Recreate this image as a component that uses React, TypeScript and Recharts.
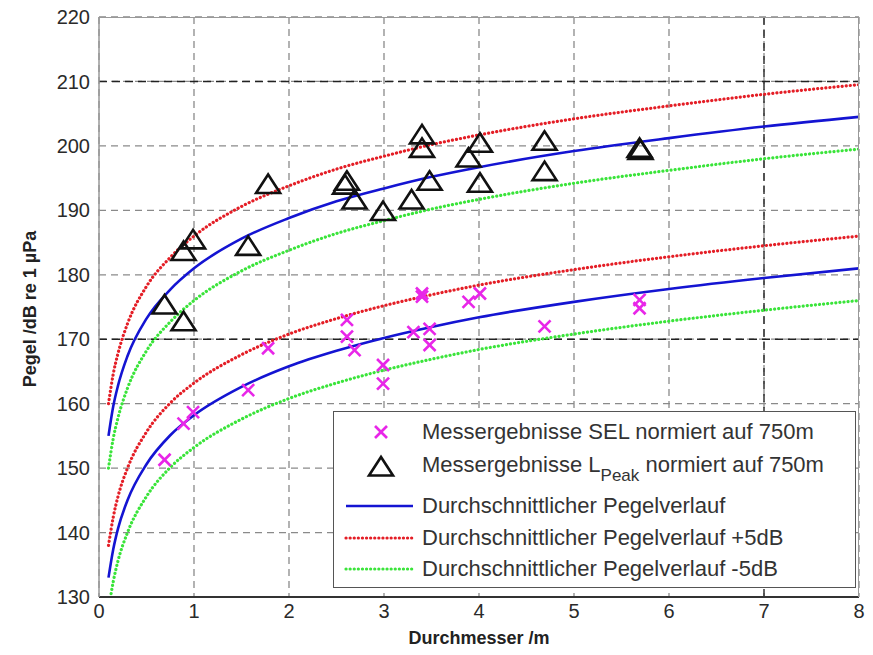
import React from 'react';
import {
  ComposedChart,
  Line,
  Scatter,
  XAxis,
  YAxis,
  CartesianGrid,
  ReferenceLine,
  Label,
} from 'recharts';

// Curve x positions (Durchmesser / m)
const curveX = [0.1, 0.15, 0.2, 0.3, 0.5, 0.75, 1, 1.5, 2, 2.5, 3, 3.5, 4, 5, 6, 7, 8];
// L_Peak average curve and +/-5 dB bands
const peakMean = [155.0, 159.6, 162.8, 167.4, 173.2, 177.7, 181.0, 185.6, 188.8, 191.4, 193.4, 195.2, 196.7, 199.2, 201.2, 203.0, 204.5];
const peakPlus = [160.0, 164.6, 167.8, 172.4, 178.2, 182.7, 186.0, 190.6, 193.8, 196.4, 198.4, 200.2, 201.7, 204.2, 206.2, 208.0, 209.5];
const peakMinus = [150.0, 154.6, 157.8, 162.4, 168.2, 172.7, 176.0, 180.6, 183.8, 186.4, 188.4, 190.2, 191.7, 194.2, 196.2, 198.0, 199.5];
// SEL average curve and +/-5 dB bands
const selMean = [133.0, 137.4, 140.6, 145.0, 150.6, 155.1, 158.2, 162.6, 165.8, 168.2, 170.2, 171.9, 173.4, 175.8, 177.8, 179.5, 181.0];
const selPlus = [138.0, 142.4, 145.6, 150.0, 155.6, 160.1, 163.2, 167.6, 170.8, 173.2, 175.2, 176.9, 178.4, 180.8, 182.8, 184.5, 186.0];
const selMinus = [128.0, 132.4, 135.6, 140.0, 145.6, 150.1, 153.2, 157.6, 160.8, 163.2, 165.2, 166.9, 168.4, 170.8, 172.8, 174.5, 176.0];

// Measurements L_Peak (triangles)
const peakX = [0.69, 0.89, 0.89, 0.99, 1.57, 1.78, 2.59, 2.61, 2.69, 2.99, 3.29, 3.40, 3.40, 3.48, 3.89, 4.01, 4.01, 4.69, 4.69, 5.69, 5.70];
const peakY = [175.0, 172.4, 183.3, 185.1, 184.1, 193.7, 193.6, 194.2, 191.3, 189.5, 191.3, 201.4, 199.3, 194.2, 197.8, 200.1, 193.9, 200.4, 195.7, 199.3, 199.0];
// Measurements SEL (crosses)
const selX = [0.69, 0.89, 0.99, 1.57, 1.78, 2.61, 2.61, 2.69, 2.99, 2.99, 3.31, 3.40, 3.40, 3.48, 3.48, 3.89, 4.01, 4.69, 5.69, 5.69];
const selY = [151.3, 156.9, 158.7, 162.1, 168.6, 173.0, 170.4, 168.3, 166.0, 163.1, 171.1, 177.1, 176.6, 171.6, 169.1, 175.8, 177.1, 172.0, 176.1, 174.8];

const xTicks = [0, 1, 2, 3, 4, 5, 6, 7, 8];
const yTicks = [130, 140, 150, 160, 170, 180, 190, 200, 210, 220];

const toPts = (xs: number[], ys: number[]) => xs.map((x, i) => ({ x, y: ys[i] }));

const FONT = '"Liberation Sans", Arial, Helvetica, sans-serif';
const BLUE = '#1414d2';
const RED = '#e41e26';
const GREEN = '#3ae43a';
const MAGENTA = '#e826e8';

const CrossShape = (props: any) => {
  const { cx, cy } = props;
  const s = 6;
  return (
    <g stroke={MAGENTA} strokeWidth={2.6}>
      <line x1={cx - s} y1={cy - s} x2={cx + s} y2={cy + s} />
      <line x1={cx - s} y1={cy + s} x2={cx + s} y2={cy - s} />
    </g>
  );
};

const TriShape = (props: any) => {
  const { cx, cy } = props;
  return (
    <polygon
      points={`${cx},${cy - 12} ${cx - 12},${cy + 6.5} ${cx + 12},${cy + 6.5}`}
      fill="none"
      stroke="#111"
      strokeWidth={2.6}
      strokeLinejoin="miter"
    />
  );
};

const dotted = { strokeDasharray: '0.1 4', strokeLinecap: 'round' as const, strokeWidth: 3.2 };

export default function App() {
  const lines = [
    { d: peakPlus, c: RED, dot: true },
    { d: peakMinus, c: GREEN, dot: true },
    { d: selPlus, c: RED, dot: true },
    { d: selMinus, c: GREEN, dot: true },
    { d: peakMean, c: BLUE, dot: false },
    { d: selMean, c: BLUE, dot: false },
  ];
  return (
    <div style={{ position: 'absolute', left: 0, top: 0, width: 873, height: 655, background: '#fff', fontFamily: FONT }}>
      <ComposedChart width={873} height={655} margin={{ top: 17, right: 14, bottom: 28, left: 9 }}>
        <CartesianGrid stroke="#8a8a8a" strokeDasharray="7 5" strokeWidth={1.3} />
        <ReferenceLine y={210} stroke="#222" strokeDasharray="8 5" strokeWidth={1.5} />
        <ReferenceLine y={170} stroke="#222" strokeDasharray="8 5" strokeWidth={1.5} />
        <ReferenceLine x={7} stroke="#333" strokeDasharray="8 5" strokeWidth={1.5} />
        <XAxis
          type="number"
          dataKey="x"
          domain={[0, 8]}
          ticks={xTicks}
          interval={0}
          allowDataOverflow
          height={30}
          tickLine={false}
          tickSize={4}
          tickMargin={3}
          axisLine={{ stroke: '#333', strokeWidth: 2 }}
          tick={{ fill: '#2a2a2a', fontSize: 20, fontFamily: FONT }}
        >
          <Label
            content={(p: any) => {
              const vb = p.viewBox || {};
              return (
                <text
                  x={vb.x + vb.width / 2}
                  y={vb.y + 47}
                  textAnchor="middle"
                  fontFamily={FONT}
                  fontWeight="bold"
                  fontSize={18}
                  fill="#222"
                >
                  Durchmesser /m
                </text>
              );
            }}
          />
        </XAxis>
        <YAxis
          type="number"
          domain={[130, 220]}
          ticks={yTicks}
          interval={0}
          allowDataOverflow
          width={90}
          tickLine={false}
          tickSize={4}
          tickMargin={5}
          axisLine={{ stroke: '#999', strokeWidth: 1.5 }}
          tick={{ fill: '#2a2a2a', fontSize: 20, fontFamily: FONT }}
        >
          <Label
            content={(p: any) => {
              const vb = p.viewBox || {};
              const x = vb.x + 27;
              const y = vb.y + vb.height / 2 + 2;
              return (
                <text
                  x={x}
                  y={y}
                  transform={`rotate(-90, ${x}, ${y})`}
                  textAnchor="middle"
                  fontFamily={FONT}
                  fontWeight="bold"
                  fontSize={18}
                  fill="#222"
                >
                  Pegel /dB re 1 µPa
                </text>
              );
            }}
          />
        </YAxis>
        {lines.map((l, i) => (
          <Line
            key={i}
            data={toPts(curveX, l.d)}
            dataKey="y"
            type="monotone"
            stroke={l.c}
            dot={false}
            activeDot={false}
            isAnimationActive={false}
            {...(l.dot ? dotted : { strokeWidth: 2.6 })}
          />
        ))}
        <Scatter data={toPts(selX, selY)} dataKey="y" shape={CrossShape} isAnimationActive={false} />
        <Scatter data={toPts(peakX, peakY)} dataKey="y" shape={TriShape} isAnimationActive={false} />
      </ComposedChart>

      {/* plot frame (top/right) */}
      <div style={{ position: 'absolute', left: 99, top: 17, width: 759, height: 579, borderTop: '1.5px solid #999', borderRight: '1.5px solid #999', pointerEvents: 'none' }} />

      {/* legend */}
      <div
        style={{
          position: 'absolute',
          left: 333,
          top: 411,
          width: 521,
          height: 175,
          border: '1.5px solid #555',
          background: '#fff',
          color: '#333',
          fontSize: 22,
          fontFamily: FONT,
        }}
      >
        <svg width={90} height={175} style={{ position: 'absolute', left: 0, top: 0 }}>
          <g transform="translate(47,20)">
            <CrossShape cx={0} cy={0} />
          </g>
          <g transform="translate(47,57)">
            <TriShape cx={0} cy={0} />
          </g>
          <line x1={12} y1={94} x2={79} y2={94} stroke={BLUE} strokeWidth={2.6} />
          <line x1={12} y1={126} x2={79} y2={126} stroke={RED} {...dotted} />
          <line x1={12} y1={157} x2={79} y2={157} stroke={GREEN} {...dotted} />
        </svg>
        {[
          { t: 20, el: <span>Messergebnisse SEL normiert auf 750m</span> },
          {
            t: 53,
            el: (
              <span>
                Messergebnisse L<sub style={{ fontSize: 17, verticalAlign: -9 }}>Peak</sub> normiert auf 750m
              </span>
            ),
          },
          { t: 94, el: <span>Durchschnittlicher Pegelverlauf</span> },
          { t: 126, el: <span>Durchschnittlicher Pegelverlauf +5dB</span> },
          { t: 157, el: <span>Durchschnittlicher Pegelverlauf -5dB</span> },
        ].map((r, i) => (
          <div
            key={i}
            style={{ position: 'absolute', left: 88, top: r.t - 13, height: 26, lineHeight: '26px', whiteSpace: 'nowrap' }}
          >
            {r.el}
          </div>
        ))}
      </div>
    </div>
  );
}
